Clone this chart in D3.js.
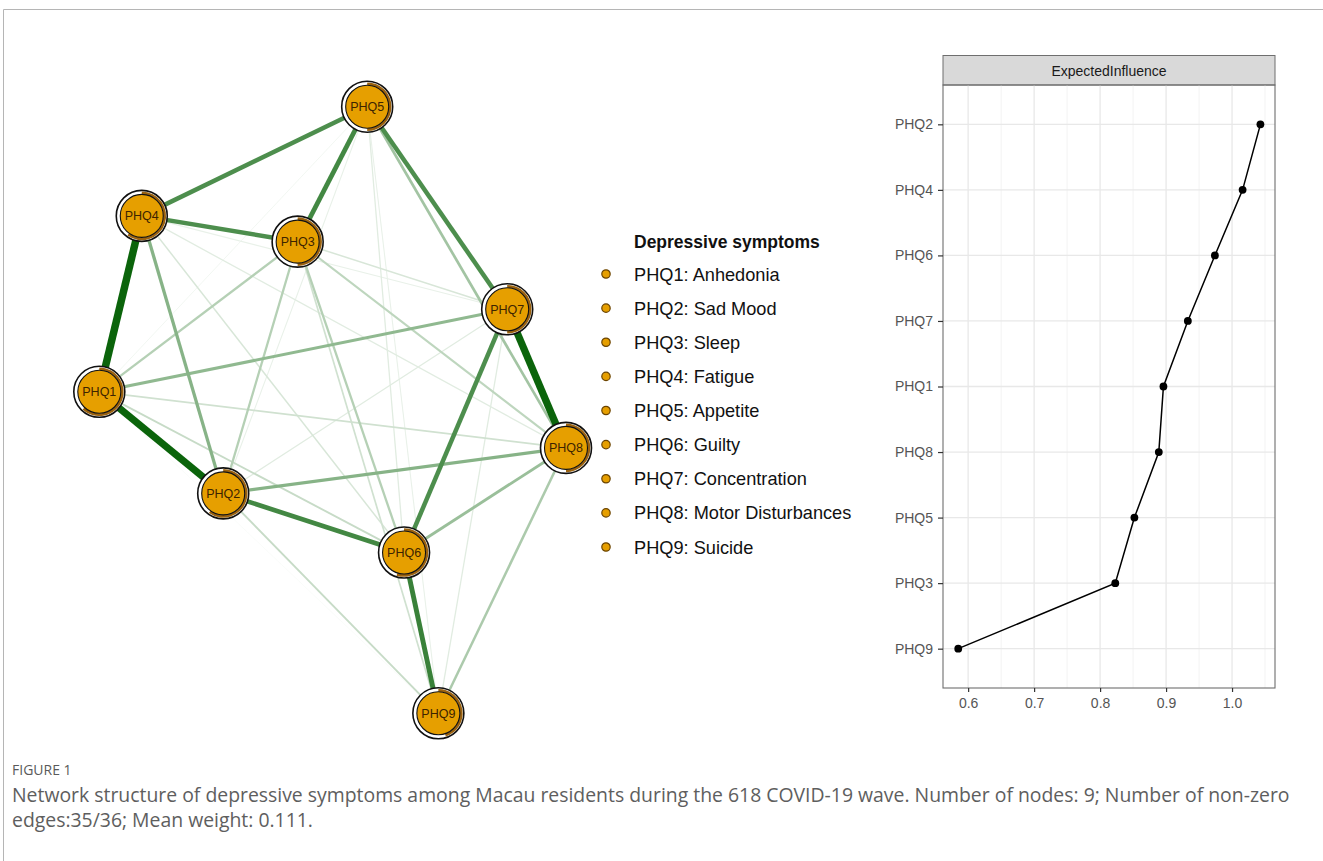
<!DOCTYPE html>
<html>
<head>
<meta charset="utf-8">
<script src="https://cdn.jsdelivr.net/npm/d3@7"></script>
<style>
  body { margin: 0; background: #fff; }
  svg { display: block; }
</style>
</head>
<body>
<div id="fig"></div>
<script>
// nodes, layout (qgraph-style, -1..1) and predictability pies
var nodes = ["PHQ1", "PHQ2", "PHQ3", "PHQ4", "PHQ5", "PHQ6", "PHQ7", "PHQ8", "PHQ9"];
var layoutX = [-1, -0.469, -0.150, -0.818, 0.148, 0.306, 0.748, 1, 0.453];
var layoutY = [0.060, -0.275, 0.555, 0.640, 1, -0.470, 0.332, -0.125, -1];
var pie = [0.62, 0.6, 0.5, 0.6, 0.5, 0.55, 0.5, 0.5, 0.45];

// edges: [from, to, weight]
var edgeFrom = [1, 1, 7, 4, 3, 3, 5, 2, 6, 6, 2, 2, 1, 6, 5, 1, 2, 3, 3, 1, 8, 2, 4, 4, 4, 1, 3, 5, 5, 7, 2, 2, 1, 1, 3];
var edgeTo   = [2, 4, 8, 5, 4, 5, 7, 6, 9, 7, 4, 8, 7, 8, 8, 3, 3, 6, 8, 6, 9, 9, 6, 7, 8, 8, 7, 6, 9, 9, 7, 5, 5, 9, 9];
var edgeW    = [0.33, 0.35, 0.34, 0.20, 0.20, 0.21, 0.20, 0.21, 0.22, 0.20, 0.14, 0.14, 0.13, 0.12, 0.11,
                0.09, 0.09, 0.09, 0.08, 0.07, 0.10, 0.07, 0.05, 0.03, 0.04, 0.06, 0.05, 0.04, 0.03, 0.04,
                0.04, 0.03, 0.02, 0.01, 0.06];

var legendLabels = ["PHQ1: Anhedonia", "PHQ2: Sad Mood", "PHQ3: Sleep", "PHQ4: Fatigue", "PHQ5: Appetite",
                    "PHQ6: Guilty", "PHQ7: Concentration", "PHQ8: Motor Disturbances", "PHQ9: Suicide"];

// centrality plot
var eiNodes  = ["PHQ9", "PHQ3", "PHQ5", "PHQ8", "PHQ1", "PHQ7", "PHQ6", "PHQ4", "PHQ2"];
var eiValues = [0.585, 0.823, 0.852, 0.889, 0.896, 0.933, 0.974, 1.016, 1.043];
var xTicks = [0.6, 0.7, 0.8, 0.9, 1.0];

var W = 1323, H = 861;
var FONT = "'Liberation Sans', Arimo, Arial, Helvetica, sans-serif";
var svg = d3.select("#fig").append("svg").attr("width", W).attr("height", H);

// figure frame
svg.append("path")
  .attr("d", "M3.5," + H + "V9.5H" + W)
  .attr("fill", "none").attr("stroke", "#b5b5b5").attr("stroke-width", 1);

// ---------- network ----------
var nx = d3.scaleLinear().domain([-1, 1]).range([99.3, 566]);
var ny = d3.scaleLinear().domain([-1, 1]).range([713.3, 106.7]);
var maxW = d3.max(edgeW);
var ewidth = d3.scaleLinear().domain([0, maxW]).range([0.5, 7.5]);
var ecol = function (w) {
  var t = Math.min(1, Math.pow(w / maxW, 1.1) * 1.35);
  return d3.interpolateRgb("#ffffff", "#0b640b")(t);
};

var edges = edgeW.map(function (w, i) { return {a: edgeFrom[i] - 1, b: edgeTo[i] - 1, w: w}; })
  .sort(function (p, q) { return p.w - q.w; });

var net = svg.append("g");
net.selectAll("line.edge")
  .data(edges)
  .enter()
  .append("line")
    .attr("class", "edge")
    .attr("x1", function (d) { return nx(layoutX[d.a]); })
    .attr("y1", function (d) { return ny(layoutY[d.a]); })
    .attr("x2", function (d) { return nx(layoutX[d.b]); })
    .attr("y2", function (d) { return ny(layoutY[d.b]); })
    .attr("stroke", function (d) { return ecol(d.w); })
    .attr("stroke-width", function (d) { return ewidth(d.w); });

var rOut = 25.5, rIn = 21.5;
var arc = d3.arc().innerRadius(rIn).outerRadius(rOut - 1.2);
var nodeG = net.selectAll("g.node")
  .data(nodes)
  .enter()
  .append("g")
    .attr("class", "node")
    .attr("transform", function (d, i) { return "translate(" + nx(layoutX[i]) + "," + ny(layoutY[i]) + ")"; });

nodeG.append("circle").attr("r", rOut).attr("fill", "#fff").attr("stroke", "#111").attr("stroke-width", 1.6);
nodeG.append("path")
  .attr("d", function (d, i) { return arc({startAngle: 0, endAngle: 2 * Math.PI * pie[i]}); })
  .attr("fill", "#9a6210");
nodeG.append("circle").attr("r", rIn).attr("fill", "#E69F00").attr("stroke", "#111").attr("stroke-width", 1.1);
nodeG.append("text")
  .attr("text-anchor", "middle")
  .attr("dy", "0.36em")
  .style("font-family", FONT)
  .style("font-size", "12.5px")
  .style("fill", "#3d2400")
  .text(function (d) { return d; });

// ---------- legend ----------
var leg = svg.append("g").attr("transform", "translate(606,0)");
leg.append("text")
  .attr("x", 28).attr("y", 248)
  .style("font-family", FONT)
  .style("font-size", "17.5px").style("font-weight", "bold").style("fill", "#111")
  .text("Depressive symptoms");
var ly = d3.scalePoint().domain(legendLabels).range([274, 547]);
leg.selectAll("circle.ld")
  .data(legendLabels)
  .enter()
  .append("circle")
    .attr("class", "ld")
    .attr("cx", 0).attr("cy", function (d) { return ly(d); })
    .attr("r", 4.2)
    .attr("fill", "#E69F00").attr("stroke", "#6b4400").attr("stroke-width", 1.2);
leg.selectAll("text.lt")
  .data(legendLabels)
  .enter()
  .append("text")
    .attr("class", "lt")
    .attr("x", 28).attr("y", function (d) { return ly(d); })
    .attr("dy", "0.36em")
    .style("font-family", FONT)
    .style("font-size", "18.2px").style("fill", "#111")
    .text(function (d) { return d; });

// ---------- expected influence panel ----------
var pm = {left: 943, right: 1275, top: 85, bottom: 688};
var strip = svg.append("g");
strip.append("rect")
  .attr("x", pm.left).attr("y", 55.5).attr("width", pm.right - pm.left).attr("height", pm.top - 55.5)
  .attr("fill", "#d9d9d9").attr("stroke", "#6e6e6e").attr("stroke-width", 1);
strip.append("text")
  .attr("x", (pm.left + pm.right) / 2).attr("y", 71).attr("dy", "0.36em")
  .attr("text-anchor", "middle")
  .style("font-family", FONT)
  .style("font-size", "14px").style("fill", "#1a1a1a")
  .text("ExpectedInfluence");

var x = d3.scaleLinear().domain([0.5619, 1.0651]).range([pm.left, pm.right]);
var y = d3.scalePoint().domain(eiNodes).range([pm.bottom, pm.top]).padding(0.6);

var panel = svg.append("g");
// minor grid
panel.selectAll("line.minor")
  .data([0.65, 0.75, 0.85, 0.95, 1.05])
  .enter().append("line")
    .attr("x1", function (d) { return x(d); }).attr("x2", function (d) { return x(d); })
    .attr("y1", pm.top).attr("y2", pm.bottom)
    .attr("stroke", "#f3f3f3").attr("stroke-width", 1);
// major grid
panel.selectAll("line.vmaj")
  .data(xTicks)
  .enter().append("line")
    .attr("x1", function (d) { return x(d); }).attr("x2", function (d) { return x(d); })
    .attr("y1", pm.top).attr("y2", pm.bottom)
    .attr("stroke", "#e8e8e8").attr("stroke-width", 1.3);
panel.selectAll("line.hmaj")
  .data(eiNodes)
  .enter().append("line")
    .attr("x1", pm.left).attr("x2", pm.right)
    .attr("y1", function (d) { return y(d); }).attr("y2", function (d) { return y(d); })
    .attr("stroke", "#e8e8e8").attr("stroke-width", 1.3);

var line = d3.line()
  .x(function (d, i) { return x(eiValues[i]); })
  .y(function (d) { return y(d); });
panel.append("path")
  .datum(eiNodes)
  .attr("d", line)
  .attr("fill", "none").attr("stroke", "#000").attr("stroke-width", 1.5);
panel.selectAll("circle.pt")
  .data(eiNodes)
  .enter().append("circle")
    .attr("class", "pt")
    .attr("cx", function (d, i) { return x(eiValues[i]); })
    .attr("cy", function (d) { return y(d); })
    .attr("r", 3.9).attr("fill", "#000");

panel.append("rect")
  .attr("x", pm.left).attr("y", pm.top).attr("width", pm.right - pm.left).attr("height", pm.bottom - pm.top)
  .attr("fill", "none").attr("stroke", "#6e6e6e").attr("stroke-width", 1.1);

var xAxis = panel.append("g")
  .attr("transform", "translate(0," + pm.bottom + ")")
  .call(d3.axisBottom(x).tickValues(xTicks).tickFormat(d3.format(".1f")).tickSize(4).tickPadding(6));
var yAxis = panel.append("g")
  .attr("transform", "translate(" + pm.left + ",0)")
  .call(d3.axisLeft(y).tickSize(5).tickPadding(5));
[xAxis, yAxis].forEach(function (a) {
  a.select(".domain").remove();
  a.selectAll(".tick line").attr("stroke", "#333").attr("stroke-width", 1.2);
  a.selectAll(".tick text")
    .style("font-family", FONT)
    .style("font-size", "14px").style("fill", "#555");
});

// ---------- caption ----------
var cap = svg.append("g").style("font-family", "'Open Sans', 'Noto Sans', sans-serif");
cap.append("text")
  .attr("x", 12).attr("y", 775)
  .style("font-size", "14px").style("fill", "#5a5a5a")
  .text("FIGURE 1");
cap.append("text")
  .attr("x", 12).attr("y", 802)
  .style("font-size", "19.4px").style("fill", "#5e5e5e")
  .text("Network structure of depressive symptoms among Macau residents during the 618 COVID-19 wave. Number of nodes: 9; Number of non-zero");
cap.append("text")
  .attr("x", 12).attr("y", 827)
  .style("font-size", "19.4px").style("fill", "#5e5e5e")
  .text("edges:35/36; Mean weight: 0.111.");
</script>
</body>
</html>
